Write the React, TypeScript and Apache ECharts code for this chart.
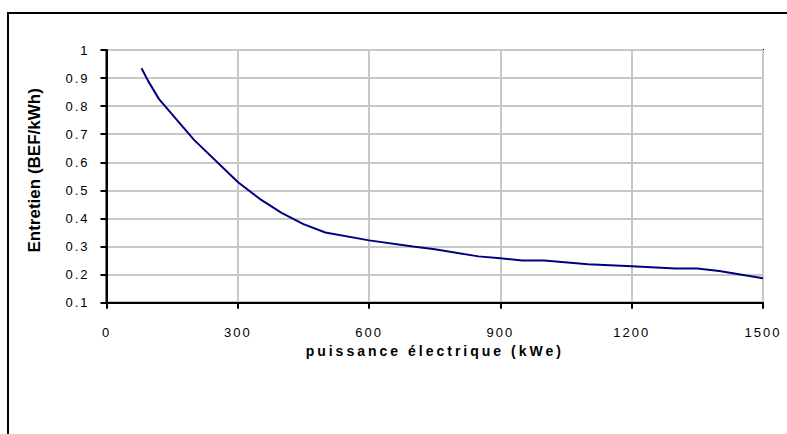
import React, { useEffect, useRef } from "react";
import * as echarts from "echarts";

// Electrical power (kWe)
const powerKWe = [80, 95, 120, 200, 300, 350, 400, 450, 500, 600, 700, 750, 850, 900, 950, 1000, 1100, 1200, 1300, 1350, 1400, 1500];
// Maintenance cost (BEF/kWh)
const maintenanceBEF = [0.935, 0.89, 0.825, 0.68, 0.53, 0.47, 0.42, 0.38, 0.35, 0.322, 0.3, 0.29, 0.265, 0.258, 0.25, 0.25, 0.237, 0.23, 0.222, 0.222, 0.213, 0.187];

const xTitle = "puissance électrique (kWe)";
const yTitle = "Entretien (BEF/kWh)";

const FONT = "Liberation Sans, Arial, sans-serif";

export default function App() {
  const ref = useRef<HTMLDivElement>(null);

  useEffect(() => {
    if (!ref.current) return;
    const chart = echarts.init(ref.current, null, { renderer: "svg" });
    chart.setOption({
      animation: false,
      backgroundColor: "#ffffff",
      grid: {
        left: 106.5,
        right: 24,
        top: 50,
        bottom: 131.3,
        show: true,
        borderColor: "#000000",
        borderWidth: 2,
        backgroundColor: "transparent",
      },
      graphic: [
        {
          type: "rect",
          silent: true,
          z: -10,
          shape: { x: 8, y: 13, width: 900, height: 600 },
          style: { fill: "none", stroke: "#000000", lineWidth: 2 },
        },
      ],
      xAxis: {
        type: "value",
        min: 0,
        max: 1500,
        interval: 300,
        name: xTitle,
        nameLocation: "middle",
        nameGap: 41,
        nameTextStyle: { fontFamily: FONT, fontSize: 14, fontWeight: "bold", color: "#000" },
        axisLine: { show: true, onZero: false, lineStyle: { color: "#000", width: 2 } },
        axisTick: { show: true, length: 6, lineStyle: { color: "#000", width: 2 } },
        axisLabel: {
          margin: 23,
          fontFamily: FONT,
          fontSize: 13,
          color: "#000",
          formatter: (v: number) => String(v),
        },
        splitLine: { show: true, lineStyle: { color: "#c8c8c8", width: 2 } },
      },
      yAxis: {
        type: "value",
        min: 0.1,
        max: 1,
        interval: 0.1,
        name: yTitle,
        nameLocation: "middle",
        nameRotate: 90,
        nameGap: 64,
        nameTextStyle: { fontFamily: FONT, fontSize: 17, fontWeight: "bold", color: "#000", padding: [0, 0, 0, 12] },
        axisLine: { show: true, lineStyle: { color: "#000", width: 2 } },
        axisTick: { show: true, length: 6, lineStyle: { color: "#000", width: 2 } },
        axisLabel: {
          margin: 17,
          fontFamily: FONT,
          fontSize: 13,
          color: "#000",
          formatter: (v: number) => String(+v.toFixed(1)),
        },
        splitLine: { show: true, lineStyle: { color: "#c8c8c8", width: 2 } },
      },
      series: [
        {
          type: "line",
          data: powerKWe.map((p, i) => [p, maintenanceBEF[i]]),
          symbol: "none",
          smooth: false,
          lineStyle: { color: "#000080", width: 2 },
        },
      ],
    });
    return () => chart.dispose();
  }, []);

  return (
    <>
      <style>{`
        #chartbox text[style*="13px"] { letter-spacing: 2px; }
        #chartbox text[style*="14px"] { letter-spacing: 3px; }
      `}</style>
      <div
        id="chartbox"
        ref={ref}
        style={{ position: "fixed", left: 0, top: 0, width: 787, height: 434, background: "#fff" }}
      />
    </>
  );
}
